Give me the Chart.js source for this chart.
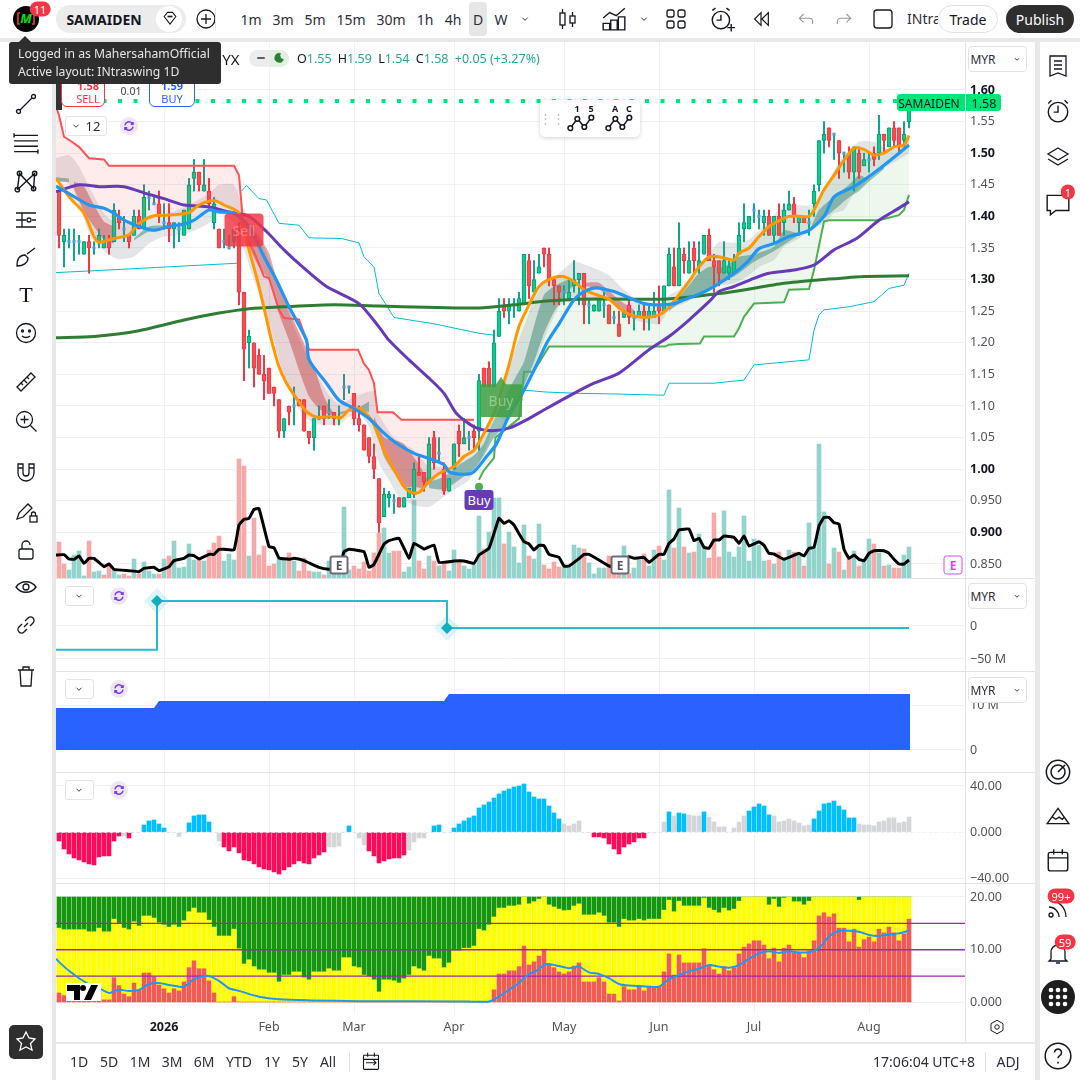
<!DOCTYPE html>
<html>
<head>
<meta charset="utf-8">
<title>SAMAIDEN 1D</title>
<script src="https://cdn.jsdelivr.net/npm/chart.js@4/dist/chart.umd.min.js"></script>
<style>
html, body { margin: 0; padding: 0; }
body { width: 1080px; height: 1080px; overflow: hidden; position: relative; background: #e8e8e8; font-family: "Noto Sans", sans-serif; color: #131722; }
.panel { position: absolute; background: #fff; }
canvas { position: absolute; left: 56px; }
.t { position: absolute; white-space: nowrap; transform: translate(-50%, -50%); font-size: 14px; }
.sep { position: absolute; background: #e0e3eb; }
.ic { position: absolute; transform: translate(-50%, -50%); fill: none; stroke: #131722; stroke-width: 1.3; overflow: visible; }
.badge { position: absolute; transform: translate(-50%, -50%); background: #f23645; color: #fff; border-radius: 10px; font-size: 11px; line-height: 15px; padding: 0 4px; text-align: center; }
.pin { position: absolute; transform: translate(-50%, -50%); }
.eMark { width: 19px; height: 19px; box-sizing: border-box; border: 2px solid #6a6d78; border-radius: 3px; background: #fff; color: #50535e; font-size: 12px; font-weight: 700; line-height: 15px; text-align: center; }
</style>
</head>
<body>
<div class="panel" style="left:0;top:0;width:1080px;height:38px"></div>
<div class="panel" style="left:0;top:42px;width:52px;height:1038px"></div>
<div class="panel" style="left:1040px;top:42px;width:40px;height:1038px"></div>
<div class="panel" style="left:56px;top:42px;width:979px;height:1000px"></div>
<div class="panel" style="left:56px;top:1044px;width:979px;height:36px"></div>

<canvas id="pricePane" width="979" height="536" style="top:42px"></canvas>
<canvas id="flowPane" width="979" height="92" style="top:579px"></canvas>
<canvas id="areaPane" width="979" height="100" style="top:672px"></canvas>
<canvas id="histPane" width="979" height="110" style="top:773px"></canvas>
<canvas id="stackPane" width="979" height="158" style="top:884px"></canvas>

<div class="sep" style="left:56px;top:578px;width:979px;height:1px"></div>
<div class="sep" style="left:56px;top:671px;width:979px;height:1px"></div>
<div class="sep" style="left:56px;top:772px;width:979px;height:1px"></div>
<div class="sep" style="left:56px;top:883px;width:979px;height:1px"></div>
<div class="sep" style="left:965px;top:42px;width:1px;height:1000px"></div>

<div id="chrome"></div>

<div id="sellBox" class="pin" style="width:39px;height:33px;background:rgba(242,54,69,.84);border-radius:4px;color:rgba(255,255,255,.3);font-size:14px;line-height:33px;text-align:center">Sell</div>
<div id="buyBox" class="pin" style="width:42px;height:40px;background:rgba(67,160,71,.88);clip-path:polygon(0 18%,38% 18%,50% 0,62% 18%,100% 18%,100% 100%,0 100%);color:rgba(255,255,255,.35);font-size:14px;line-height:48px;text-align:center">Buy</div>
<div id="buyTag" class="pin" style="width:29px;height:20px;background:#673ab7;border-radius:3px;color:#fff;font-size:13px;line-height:20px;text-align:center">Buy</div>
<div id="earnA" class="pin eMark">E</div>
<div id="earnB" class="pin eMark">E</div>
<div id="earnC" class="pin eMark" style="border-color:#e040fb;color:#e040fb;border-width:1px;line-height:17px">E</div>

<script>
// Every candle, one entry per daily bar
const opens = [
  1.44,1.36,1.36,1.36,1.36,1.34,1.36,1.35,1.36,1.35,
  1.36,1.36,1.40,1.38,1.37,1.37,1.40,1.38,1.43,1.42,
  1.42,1.39,1.39,1.38,1.38,1.37,1.38,1.46,1.47,1.44,
  1.44,1.39,1.38,1.36,1.35,1.36,1.37,1.28,1.20,1.20,
  1.18,1.15,1.16,1.13,1.11,1.06,1.10,1.10,1.11,1.11,
  1.06,1.05,1.08,1.10,1.09,1.09,1.08,1.13,1.13,1.12,
  1.08,1.07,1.05,1.02,0.985,0.925,0.955,0.95,0.955,0.94,
  0.955,0.96,0.995,0.995,0.98,1.05,1.025,1.00,0.965,1.00,
  1.06,1.04,1.05,1.06,1.06,1.16,1.16,1.13,1.21,1.26,
  1.25,1.26,1.25,1.26,1.33,1.28,1.31,1.35,1.34,1.30,
  1.29,1.28,1.27,1.29,1.30,1.31,1.26,1.25,1.25,1.26,
  1.26,1.24,1.23,1.24,1.26,1.24,1.24,1.25,1.24,1.24,
  1.26,1.25,1.29,1.32,1.29,1.34,1.31,1.35,1.32,1.34,
  1.37,1.33,1.33,1.31,1.31,1.31,1.34,1.38,1.38,1.41,
  1.40,1.39,1.40,1.37,1.40,1.39,1.41,1.42,1.39,1.40,
  1.39,1.42,1.45,1.52,1.54,1.53,1.52,1.50,1.50,1.47,
  1.50,1.48,1.49,1.50,1.50,1.53,1.51,1.54,1.54,1.52,1.55
];
const highs = [
  1.44,1.38,1.38,1.38,1.37,1.36,1.37,1.36,1.38,1.37,
  1.37,1.42,1.41,1.40,1.37,1.41,1.41,1.45,1.44,1.43,
  1.44,1.42,1.42,1.39,1.39,1.41,1.46,1.49,1.47,1.49,
  1.46,1.43,1.38,1.38,1.37,1.38,1.39,1.28,1.22,1.20,
  1.19,1.18,1.16,1.13,1.11,1.08,1.10,1.13,1.11,1.11,
  1.06,1.08,1.10,1.10,1.11,1.09,1.10,1.15,1.13,1.12,
  1.10,1.07,1.05,1.04,0.985,0.97,0.965,0.96,0.955,0.955,
  0.97,1.01,1.02,0.995,1.05,1.06,1.05,1.01,0.985,1.04,
  1.07,1.08,1.06,1.07,1.15,1.16,1.17,1.22,1.27,1.27,
  1.27,1.27,1.28,1.34,1.34,1.33,1.34,1.35,1.35,1.30,
  1.29,1.29,1.30,1.33,1.31,1.31,1.27,1.26,1.27,1.28,
  1.26,1.25,1.25,1.25,1.27,1.25,1.26,1.26,1.26,1.28,
  1.29,1.29,1.35,1.35,1.39,1.35,1.36,1.36,1.36,1.37,
  1.38,1.34,1.33,1.36,1.33,1.34,1.39,1.42,1.40,1.42,
  1.41,1.41,1.41,1.40,1.42,1.42,1.44,1.43,1.40,1.40,
  1.41,1.45,1.52,1.55,1.54,1.53,1.52,1.50,1.51,1.51,
  1.51,1.50,1.50,1.51,1.56,1.53,1.54,1.55,1.54,1.55,1.59
];
const lows = [
  1.35,1.32,1.35,1.33,1.34,1.34,1.31,1.34,1.35,1.35,
  1.34,1.36,1.38,1.36,1.35,1.37,1.38,1.38,1.41,1.42,
  1.39,1.38,1.36,1.35,1.36,1.37,1.38,1.44,1.44,1.44,
  1.41,1.38,1.35,1.35,1.35,1.35,1.26,1.14,1.16,1.13,
  1.15,1.11,1.12,1.10,1.05,1.05,1.07,1.07,1.10,1.06,
  1.04,1.03,1.08,1.07,1.08,1.07,1.07,1.11,1.12,1.07,
  1.06,1.03,1.01,0.985,0.90,0.925,0.94,0.93,0.94,0.94,
  0.955,0.955,0.99,0.965,0.98,1.00,1.01,0.96,0.965,1.00,
  1.02,1.04,1.03,1.03,1.03,1.13,1.13,1.13,1.21,1.24,
  1.23,1.24,1.25,1.26,1.27,1.28,1.31,1.32,1.29,1.26,
  1.26,1.26,1.27,1.28,1.26,1.23,1.23,1.25,1.25,1.24,
  1.23,1.23,1.21,1.24,1.23,1.22,1.24,1.22,1.22,1.24,
  1.23,1.25,1.29,1.29,1.29,1.31,1.31,1.31,1.31,1.34,
  1.33,1.28,1.29,1.31,1.30,1.31,1.34,1.36,1.38,1.39,
  1.38,1.37,1.37,1.36,1.37,1.37,1.41,1.39,1.37,1.39,
  1.37,1.40,1.44,1.50,1.51,1.49,1.46,1.47,1.46,1.44,
  1.46,1.48,1.47,1.48,1.49,1.50,1.51,1.51,1.50,1.51,1.54
];
const closes = [
  1.37,1.37,1.36,1.36,1.36,1.36,1.35,1.35,1.37,1.36,
  1.35,1.41,1.39,1.38,1.36,1.40,1.38,1.43,1.43,1.42,
  1.40,1.39,1.38,1.39,1.38,1.41,1.45,1.47,1.45,1.45,
  1.42,1.42,1.35,1.36,1.35,1.38,1.28,1.19,1.21,1.16,
  1.15,1.14,1.12,1.12,1.06,1.08,1.09,1.10,1.10,1.06,
  1.05,1.08,1.08,1.08,1.09,1.08,1.08,1.13,1.13,1.08,
  1.07,1.03,1.02,1.00,0.915,0.96,0.96,0.95,0.94,0.955,
  0.97,1.00,0.99,0.98,1.04,1.01,1.025,0.965,0.985,1.04,
  1.04,1.05,1.05,1.05,1.14,1.13,1.13,1.20,1.25,1.25,
  1.26,1.26,1.27,1.34,1.29,1.30,1.32,1.34,1.30,1.29,
  1.28,1.28,1.28,1.30,1.31,1.26,1.26,1.26,1.27,1.26,
  1.23,1.24,1.21,1.25,1.24,1.24,1.25,1.24,1.25,1.25,
  1.25,1.29,1.34,1.29,1.35,1.33,1.33,1.33,1.33,1.37,
  1.33,1.32,1.31,1.33,1.32,1.33,1.37,1.39,1.40,1.41,
  1.40,1.40,1.37,1.40,1.37,1.41,1.42,1.40,1.40,1.39,
  1.39,1.44,1.52,1.53,1.52,1.53,1.50,1.50,1.47,1.51,
  1.47,1.49,1.49,1.49,1.53,1.52,1.54,1.52,1.51,1.53,1.58
];

// Volume in millions, and whether each bar was coloured red or green
const volumes = [
  10.8,4.2,2.4,6.9,8.1,0.6,11.1,1.8,2.1,0.9,
  3.6,2.4,0.9,1.2,0.6,5.7,1.2,4.8,2.1,1.2,
  1.2,5.7,6.6,11.1,3.0,3.3,10.2,5.4,5.4,5.1,
  8.4,10.5,12.6,5.1,7.2,5.4,35.7,33.6,6.6,18.0,
  6.9,9.6,3.6,4.2,6.0,5.4,7.5,5.1,2.1,6.0,
  2.1,1.8,1.8,0.9,5.1,2.4,1.8,21.3,2.4,3.6,
  2.7,4.8,2.1,7.5,13.4,15.0,7.5,8.1,8.1,1.8,
  3.3,23.4,5.1,2.7,6.6,5.1,3.6,4.2,2.1,8.4,
  4.8,3.6,2.7,3.9,18.6,8.7,13.8,24.0,24.0,10.2,
  13.8,9.3,4.5,15.9,6.6,5.7,16.2,3.9,2.7,4.8,
  3.3,3.3,3.3,9.9,9.0,8.7,4.5,1.2,3.0,3.0,
  6.6,3.6,3.4,9.6,1.4,3.0,5.4,7.2,3.6,8.4,
  9.6,5.4,26.4,9.0,21.0,9.3,7.5,7.8,13.2,9.6,
  6.0,19.5,6.3,20.1,7.8,6.3,9.3,18.6,5.1,11.7,
  9.9,5.1,5.4,4.2,7.8,6.0,8.4,7.8,6.9,3.6,
  16.5,9.0,40.2,19.8,4.2,9.0,7.8,2.4,6.0,8.1,
  3.6,5.4,11.7,10.2,7.5,3.6,3.9,3.0,3.0,6.9,9.3
];
const volumeTones = 'rrggggrggr' + 'rggrrgrggg' + 'rgrgggggrg' + 'rrrgggrrgr' + 'rrrrggrgrr' + 'rggrgggggr' +
  'rrrrrggrrg' + 'ggrrgrgrgg' + 'rggggrgggr' + 'ggggrggrrr' + 'rggggrgggg' + 'rrrgrggrgg' +
  'rggrgrgrgg' + 'rrrggggggg' + 'ggrgrggrgr' + 'ggggrgrgrg' + 'rggrgrgrrgg';

// Lines are [bar number, value] as read at the points where they bend
const volumeAverage = [[-0.6,6.9],[1,7.0],[2,5.7],[3,5.6],[4,6.6],[5,4.4],[6,5.9],[7,5.9],[9,3.4],[10,4.2],[11,2.6],[14,2.2],[16,1.9],[17,2.9],[19,3.2],[20,2.2],[22,3.4],[23,5.2],[25,5.9],[26,6.9],[27,6.7],[28,5.7],[30,7.1],[31,7.1],[32,8.6],[33,8.6],[35,8.4],[36,15.9],[37,17.6],[38,17.9],[39,20.6],[40,20.8],[42,9.4],[43,9.1],[44,6.0],[46,5.6],[47,5.9],[49,5.2],[52,3.2],[54,2.6],[56,2.6],[57,7.9],[58,8.6],[61,7.9],[62,3.2],[63,4.1],[65,10.2],[66,11.2],[68,11.9],[70,5.9],[71,10.4],[73,8.7],[75,9.9],[76,4.7],[79,5.1],[81,5.1],[83,4.4],[84,6.9],[86,8.9],[88,17.9],[89,16.4],[90,17.2],[91,15.9],[92,13.3],[93,10.9],[94,10.2],[95,8.4],[96,9.8],[97,9.7],[98,7.1],[100,6.2],[101,3.6],[102,3.6],[104,5.8],[105,7.1],[106,7.1],[108,5.4],[110,3.6],[112,3.3],[114,6.4],[115,5.9],[117,6.2],[118,4.7],[120,7.1],[121,7.1],[122,10.4],[123,11.7],[124,14.4],[126,14.7],[127,11.2],[128,11.9],[129,9.2],[130,8.9],[131,11.4],[132,11.4],[133,12.6],[135,12.2],[136,10.4],[137,12.6],[138,9.6],[140,10.9],[141,9.8],[142,7.4],[143,7.2],[145,5.6],[148,7.4],[149,6.6],[150,8.9],[151,9.2],[152,15.6],[153,18.2],[154,18.2],[155,16.6],[156,16.2],[157,8.6],[158,5.9],[159,6.9],[160,5.6],[161,5.2],[162,7.4],[163,8.2],[165,8.2],[166,7.4],[167,5.6],[168,4.2],[169,4.2],[170,5.4]];

const orangeLine = [[-0.6,1.46],[2,1.431],[5,1.405],[7,1.368],[8,1.359],[11,1.365],[14,1.371],[16,1.389],[19,1.401],[22,1.402],[26,1.406],[28,1.418],[31,1.425],[33,1.418],[36,1.405],[38,1.347],[40,1.289],[42.5,1.204],[44,1.162],[45.5,1.136],[47.5,1.112],[49.5,1.091],[51.7,1.082],[54.2,1.083],[56.5,1.082],[58,1.094],[60,1.096],[62,1.083],[63,1.07],[65,1.03],[67,1.0],[69,0.972],[70.5,0.963],[72,0.963],[74,0.98],[76,0.993],[77.5,0.999],[79,1.004],[81,1.02],[83,1.03],[85,1.057],[87,1.088],[88.5,1.125],[90,1.165],[92,1.226],[94,1.26],[96,1.289],[98,1.30],[100.8,1.305],[103,1.297],[105,1.284],[107.5,1.276],[110,1.269],[112,1.255],[114,1.245],[117,1.24],[120,1.244],[122,1.256],[124,1.276],[126,1.297],[128,1.32],[130,1.336],[132,1.336],[135,1.331],[136,1.342],[138,1.35],[140,1.368],[142,1.384],[144,1.393],[146,1.40],[148,1.40],[150,1.40],[151,1.41],[153,1.442],[155,1.465],[157,1.489],[159,1.508],[161,1.506],[163,1.497],[165,1.50],[167,1.51],[169,1.513],[170,1.528]];
const blueLine = [[-0.6,1.448],[2,1.436],[6,1.418],[9,1.413],[11,1.405],[13,1.394],[16,1.384],[19,1.378],[22,1.384],[25,1.388],[27,1.394],[30,1.41],[32,1.407],[35,1.405],[38,1.384],[41,1.336],[43.5,1.299],[46,1.257],[49.5,1.204],[50,1.173],[53.5,1.136],[56,1.109],[59,1.096],[62,1.08],[65,1.057],[67.5,1.041],[71,1.025],[74,1.017],[77,1.007],[78,0.996],[81,0.992],[83,0.996],[85.5,1.02],[87.5,1.04],[90,1.085],[93,1.125],[95.5,1.165],[97.5,1.199],[100,1.23],[103,1.268],[105,1.281],[107.5,1.287],[111,1.281],[113.5,1.273],[117,1.262],[120,1.26],[123,1.262],[125,1.268],[128,1.277],[131,1.289],[135,1.31],[137.7,1.328],[140,1.349],[143,1.357],[146,1.368],[150,1.378],[153,1.40],[155,1.431],[159,1.447],[162,1.463],[165,1.481],[168,1.50],[170,1.513]];
const purpleLine = [[-0.6,1.439],[4,1.45],[8,1.447],[13,1.447],[17.5,1.436],[21,1.428],[25,1.418],[30,1.415],[34,1.407],[38,1.40],[41.5,1.376],[45,1.347],[49,1.318],[53.5,1.289],[60,1.262],[64,1.225],[66,1.204],[70,1.173],[74,1.144],[77,1.12],[79.5,1.088],[83,1.067],[86,1.061],[90,1.065],[93.5,1.078],[97.5,1.096],[103,1.12],[107,1.136],[112,1.152],[118,1.189],[122,1.21],[126,1.236],[130,1.265],[132,1.281],[135,1.289],[139,1.302],[142,1.31],[147,1.315],[151,1.323],[155,1.347],[159.5,1.365],[164,1.394],[168,1.413],[170,1.423]];
const longAverage = [[-0.6,1.208],[7,1.21],[16,1.219],[25,1.236],[32,1.247],[38,1.254],[45,1.257],[55,1.26],[64,1.258],[84,1.255],[91,1.26],[97.5,1.266],[104,1.269],[114,1.269],[121,1.269],[128,1.274],[135,1.281],[145,1.294],[153,1.30],[161,1.305],[170,1.306]];

const sellStop = [[-0.6,1.574],[0,1.56],[1,1.526],[2.2,1.52],[4,1.51],[6,1.492],[9,1.49],[10,1.48],[35,1.48],[36,1.465],[37,1.373],[39,1.344],[41,1.305],[42,1.302],[44,1.252],[45,1.239],[48,1.237],[49,1.215],[50,1.189],[59.8,1.189],[61,1.167],[62,1.157],[63,1.136],[63.7,1.09],[66.8,1.09],[68.5,1.078],[83,1.078]];
const buyStop = [[84,0.983],[84.8,0.996],[87,1.018],[87.3,1.05],[92,1.08],[92.5,1.11],[93,1.154],[94.9,1.154],[98,1.194],[121.2,1.194],[122,1.197],[124,1.198],[128.2,1.199],[129,1.21],[135,1.21],[136,1.223],[137,1.241],[139,1.262],[145,1.264],[146,1.284],[150,1.285],[151,1.315],[153,1.392],[154,1.394],[164,1.394],[168,1.402],[169,1.41],[170,1.434]];

const cyanFirst = [[-0.6,1.311],[12,1.316],[21.5,1.32],[36,1.326]];
const cyanSecond = [[36.5,1.44],[37.5,1.449],[40,1.428],[41.5,1.426],[44,1.389],[48,1.386],[50,1.366],[56.5,1.365],[60,1.358],[61,1.336],[63,1.32],[64,1.278],[67,1.24],[75,1.23],[84,1.215],[87,1.212]];
const cyanThird = [[93,1.125],[97.5,1.122],[104,1.12],[111,1.119],[121,1.117],[122,1.136],[131,1.136],[137,1.141],[139,1.165],[150,1.173],[151,1.22],[152,1.244],[153,1.252],[158,1.257],[163,1.265],[166,1.286],[169,1.291],[170,1.31]];

const cloudTop = [[-0.6,1.492],[2,1.497],[4,1.479],[6,1.447],[9,1.405],[11,1.392],[16,1.394],[22,1.405],[26,1.418],[30,1.436],[32,1.45],[35,1.45],[37,1.41],[39,1.389],[41,1.352],[44,1.289],[47,1.225],[50,1.173],[54,1.117],[56,1.104],[60,1.117],[63,1.123],[64,1.086],[67,1.05],[71,1.03],[74,1.004],[77,1.004],[79,1.0],[81,1.02],[83,1.03],[85,1.06],[87,1.099],[89,1.146],[91,1.185],[93,1.226],[95,1.268],[97,1.294],[100,1.31],[103,1.328],[107,1.318],[110,1.307],[113,1.284],[117,1.26],[120,1.252],[122,1.276],[124,1.284],[127,1.31],[130,1.342],[132,1.36],[135,1.358],[138,1.363],[142,1.394],[144,1.41],[146,1.418],[151,1.418],[153,1.442],[155.5,1.479],[160,1.518],[163,1.518],[166,1.505],[169,1.513],[170,1.526]];
const cloudBottom = [[-0.6,1.458],[2,1.452],[4,1.42],[6,1.373],[8,1.352],[10,1.339],[12,1.332],[15,1.336],[18,1.357],[21,1.368],[25,1.371],[30,1.389],[32,1.405],[35,1.389],[37,1.347],[39,1.299],[41,1.257],[43,1.204],[45,1.146],[48,1.094],[51,1.072],[54,1.07],[56,1.07],[58,1.083],[60,1.088],[62,1.067],[64,1.009],[66,0.983],[68,0.956],[71,0.943],[74,0.94],[76,0.951],[78,0.962],[80,0.972],[82,0.983],[84,1.007],[86,1.046],[87.2,1.083],[90,1.078],[93,1.12],[95,1.162],[97.5,1.215],[100,1.257],[102.5,1.273],[105,1.265],[110,1.268],[112,1.252],[116,1.234],[120,1.23],[122,1.252],[125,1.262],[128,1.275],[131,1.289],[135,1.294],[138,1.307],[140,1.32],[143,1.331],[145,1.352],[148,1.365],[150,1.378],[153,1.389],[155,1.405],[157,1.41],[159,1.436],[162,1.458],[165,1.476],[170,1.50]];

// Coloured ribbon inside the cloud: each stretch has a top and a bottom edge
const redRibbons = [
  [[[3,1.455],[5,1.447],[7,1.418],[9,1.392],[11,1.384]], [[3,1.444],[5,1.407],[7,1.384],[9,1.363],[11,1.357]]],
  [[[36,1.405],[38,1.384],[40,1.368],[42,1.342],[44,1.289],[46,1.252],[49,1.199],[51,1.162],[53,1.115],[55,1.088],[56,1.085]], [[36,1.394],[38,1.352],[40,1.32],[42,1.299],[44,1.246],[46,1.204],[48,1.157],[50,1.115],[52,1.096],[54,1.086],[56,1.085]]],
  [[[63,1.083],[65,1.05],[67,1.046],[69,1.04],[72,1.007],[74,0.98]], [[63,1.075],[65,1.02],[67,0.994],[69,0.972],[71,0.972],[73,0.97],[74,0.978]]],
  [[[105,1.295],[108,1.295],[112,1.268],[115,1.252]], [[105,1.29],[108,1.285],[112,1.255],[115,1.245]]]
];
const tealRibbons = [
  [[[-0.6,1.462],[2,1.46]], [[-0.6,1.455],[2,1.454]]],
  [[[15,1.365],[18,1.384],[22,1.386]], [[15,1.362],[18,1.376],[22,1.381]]],
  [[[56,1.09],[60,1.098],[62,1.107]], [[56,1.086],[60,1.094],[62,1.09]]],
  [[[74,0.98],[77,0.988],[80,1.007],[83,1.022],[85,1.041],[87,1.078],[89,1.11],[91,1.141],[93,1.17],[95,1.226],[97,1.276],[99,1.289],[102,1.30],[104,1.294]], [[74,0.97],[77,0.968],[80,0.983],[83,1.0],[85,1.022],[87,1.05],[89,1.067],[91,1.094],[93,1.132],[95,1.17],[97,1.215],[99,1.249],[102,1.284],[104,1.294]]],
  [[[122,1.256],[124,1.273],[126,1.291],[128,1.31],[130,1.32],[133,1.32],[136,1.336],[139,1.34],[143,1.352],[145,1.378],[148,1.373],[150,1.378],[152,1.41],[155,1.431],[158,1.45],[160,1.465],[162,1.46],[165,1.479]], [[122,1.25],[124,1.262],[126,1.27],[128,1.276],[130,1.284],[133,1.296],[136,1.31],[139,1.328],[143,1.345],[145,1.355],[148,1.37],[150,1.375],[152,1.39],[155,1.41],[158,1.43],[160,1.44],[162,1.455],[165,1.475]]]
];

const lastPriceLine = [[-0.6,1.5826],[170,1.5826]];
const buySignalDot = [[84,0.972]];

// Second and third panes
const flowLine = [[-0.6,-36],[19.6,-36],[19.6,38],[77.6,38],[77.6,-3],[170,-3]];
const flowMarks = [[19.6,38],[77.6,-3]];
const areaLine = [[-0.6,9.5],[19,9.5],[20,11.1],[77,11.1],[78,12.7],[170.2,12.7]];

// Momentum histogram: one value per bar, tone r=red b=blue g=grey
const histValues = [
  -7.5,-14.4,-18.7,-22.2,-23.9,-25.6,-27.3,-28.2,-21.3,-20.4,
  -20.4,-7.5,-3.2,-3.2,-4.9,0,0,6.3,9.8,10.6,
  7.2,3.7,0,0,-3.7,0,8.1,14.1,15,15,
  8.9,0,-7.5,-12.7,-16.1,-12.7,-17.8,-23.9,-24.7,-27.3,
  -29.9,-31.7,-32.5,-34.2,-36,-32.5,-29.9,-27.3,-24.7,-26.5,
  -27.3,-22.2,-19.6,-17,-12.7,-12.7,-11.8,0,5.5,0,
  -4.9,-10.9,-16.1,-20.4,-26.5,-24.7,-23,-22.2,-22.2,-19.6,
  -15.3,-8.3,-4.9,-4.9,0,5.5,6.3,0,0,3.7,
  7.2,9.8,12.4,14.1,21,23.6,26.2,29.6,33.1,35.7,
  37.4,39.1,40,41.7,34.8,30.5,28.8,28.8,22.7,16.7,
  11.5,7.2,5.5,7.2,9.8,0,0,-4,-4,-4.9,
  -10.1,-14.4,-18.7,-12.7,-10.1,-8.3,-4.9,-4.9,0,0,
  0,8.9,17.6,14.1,16.7,15.9,15,14.1,14.1,17.6,
  13.2,8.9,4.6,4.6,0,3.7,8.9,14.1,18.4,21.9,
  24.5,22.7,15,14.1,8.9,9.8,11.5,9.8,8.1,5.5,
  6.3,11.5,18.4,24.5,25.3,27,22.7,19.3,12.4,12.4,
  7.2,6.3,6.3,5.5,8.9,9.8,12.4,12.4,8.1,8.9,13.2
];
const histTones = 'rrrrrrrrrr' + 'rrrgrggbbb' + 'bbggggbbbb' + 'bggrrrrrrr' + 'rrrrrrrrrr' + 'rrrrggggbg' +
  'ggrrrrrrrr' + 'gggggbbggb' + 'bbbbbbbbbb' + 'bbbbbbbbbb' + 'bggggggrrr' + 'rrrrrrrrgg' +
  'ggbgbbgggb' + 'ggggggggbb' + 'bbbggggggg' + 'gbbbbbbbbb' + 'ggggggggggg';
const histZero = [[-0.6,0],[181.2,0]];

// Bottom pane: top of the red part, top of the yellow part, green fills up to 20
const stackRed = [
  1.8,1.3,1.3,0.3,0.3,0.3,0.3,0.3,2.0,0.5,
  0.5,4.7,3.2,1.6,1.1,3.7,2.4,5.6,5.6,4.9,
  3.3,2.6,1.8,2.6,2.2,3.9,6.6,7.9,6.4,6.4,
  4.1,1.8,0.1,0.1,0.1,1.1,0.1,0.1,0.1,0.1,
  0.1,0.1,0.1,0.1,0.1,0.1,0.1,0.1,0.1,0.1,
  0.1,0.1,0.1,0.1,0.1,0.1,0.1,0.1,0.1,0.1,
  0.1,0.1,0.1,0.1,0.1,0.1,0.1,0.1,0.1,0.1,
  0.1,0.1,0.1,0.1,0.1,0.1,0.1,0.1,0.1,0.1,
  0.1,0.1,0.1,0.1,0.1,0.1,0.1,2.4,5.4,5.4,
  6.0,6.0,6.8,10.7,7.1,7.7,8.8,10.1,7.1,6.6,
  5.8,5.4,5.8,6.9,7.5,3.9,3.9,3.9,4.7,3.9,
  1.6,1.6,0.3,3.0,2.4,2.4,3.0,2.2,3.0,3.0,
  3.0,5.8,9.2,5.2,9.0,7.5,7.5,7.5,7.5,10.2,
  6.9,6.2,5.4,6.8,6.0,6.6,9.2,10.5,11.1,11.7,
  11.7,10.9,8.3,10.3,7.7,10.3,10.9,9.4,9.4,8.5,
  9.8,11.7,16.4,17.0,16.2,16.8,14.1,14.1,11.5,13.9,
  10.5,11.9,12.4,11.5,13.9,13.2,14.3,13.2,11.7,13.0,15.8
];
const stackYellow = [
  14.1,13.8,13.8,13.8,13.8,13.8,13.4,13.4,14.1,13.4,
  13.4,15.8,14.9,14.1,13.8,15.3,14.5,16.4,16.4,16.0,
  15.1,14.7,14.3,14.7,14.3,15.5,17.2,17.9,17.0,17.0,
  15.6,14.3,12.6,12.6,12.6,13.9,10.2,7.3,8.1,6.8,
  6.2,6.2,5.6,5.6,3.9,5.2,5.2,5.8,5.8,4.7,
  4.3,5.8,5.8,5.8,6.4,6.0,6.0,8.5,8.5,6.8,
  6.6,5.2,4.9,4.3,2.0,4.3,4.3,4.1,3.7,4.5,
  5.2,6.8,6.4,6.0,8.8,8.3,8.3,6.6,7.5,9.8,
  9.8,10.3,10.3,10.7,13.9,13.6,14.7,16.2,17.9,17.9,
  18.3,18.3,18.5,20,18.7,19.1,19.6,20,18.5,18.1,
  17.7,17.4,17.5,18.3,18.7,16.6,16.6,16.6,17.0,16.4,
  15.1,15.1,14.3,15.8,15.5,15.5,15.8,15.5,15.8,15.8,
  15.8,17.5,19.4,17.2,19.2,18.3,18.3,18.3,18.3,19.8,
  17.9,17.5,17.0,17.9,17.4,17.7,19.2,20,20,20,
  20,20,18.5,19.6,18.1,19.8,20,19.1,19.1,18.5,
  19.2,20,20,20,20,20,20,20,20,20,
  19.4,20,20,20,20,20,20,20,20,20,20
];
const stackLine = [[-0.6,8.3],[0,7.7],[2,6.0],[4,4.6],[6,3.5],[8,2.7],[10,1.8],[11,2.1],[12,2.4],[14,2.2],[16,2.4],[18,3.5],[20,3.7],[22,3.3],[24,3.0],[25,3.0],[27,4.4],[29,5.0],[30,5.0],[32,4.1],[34,2.7],[36,2.2],[40,1.1],[44,0.6],[50,0.4],[60,0.25],[80,0.2],[86,0.2],[88,1.1],[90,2.4],[92,3.7],[93,4.6],[94,5.4],[95.5,6.0],[97,7.1],[98,7.3],[100,6.9],[102,6.5],[104,6.8],[106,5.7],[108,5.4],[110,4.6],[112,3.5],[114,3.2],[118,3.0],[120,3.0],[122,4.4],[124,5.2],[126,5.9],[128,6.4],[130,7.1],[132,6.8],[134,6.6],[136,7.1],[138,8.3],[140,9.3],[142,9.7],[144,9.4],[146,9.7],[148,9.5],[150,9.5],[152,10.3],[154,12.5],[156,13.6],[158,13.6],[160,13.4],[162,12.8],[164,12.6],[166,12.9],[168,13.1],[170,13.6]];
const stackLevels = [15,10,5];

// Axis labels
const priceTicks = [1.60,1.55,1.50,1.45,1.40,1.35,1.30,1.25,1.20,1.15,1.10,1.05,1.00,0.95,0.90,0.85];
const priceTickLabels = ['1.60','1.55','1.50','1.45','1.40','1.35','1.30','1.25','1.20','1.15','1.10','1.05','1.00','0.950','0.900','0.850'];
const boldPriceTicks = [1.60,1.50,1.40,1.30,1.00,0.90];
const monthBars = [21,42,59,79,101,120,139,162];
const monthLabels = ['2026','Feb','Mar','Apr','May','Jun','Jul','Aug'];

const fontFamily = '"Noto Sans", sans-serif';
const gridColor = '#eff1f5';
const barNumbers = opens.map((_, i) => i);

function points(pairs) {
    return pairs.map(p => ({ x: p[0], y: p[1] }));
}

function lineSet(pairs, color, width, order, extra) {
    return Object.assign({
        type: 'line',
        data: points(pairs),
        borderColor: color,
        borderWidth: width,
        pointRadius: 0,
        tension: 0,
        fill: false,
        order: order
    }, extra || {});
}

function barSet(data, colors, thickness, order, extra) {
    return Object.assign({
        type: 'bar',
        data: data,
        backgroundColor: colors,
        barThickness: thickness,
        grouped: false,
        borderWidth: 0,
        order: order
    }, extra || {});
}

const isBoldTick = c => !!c.tick && boldPriceTicks.includes(c.tick.value);

// Shared scale setup, each pane only differs in its y range and labels
function valueAxis(min, max, ticks, labels, boldable) {
    return {
        position: 'right',
        min: min,
        max: max,
        afterBuildTicks: s => { s.ticks = ticks.map(v => ({ value: v })); },
        afterFit: s => { s.width = 70; s.paddingTop = 0; s.paddingBottom = 0; },
        border: { display: false },
        grid: { color: gridColor, drawTicks: false },
        ticks: {
            autoSkip: false,
            padding: 5,
            color: c => boldable && isBoldTick(c) ? '#131722' : '#50535e',
            font: c => ({ family: fontFamily, size: 12.5, weight: boldable && isBoldTick(c) ? '700' : '400' }),
            callback: (v, i) => labels[i]
        }
    };
}

function barAxis(showLabels) {
    return {
        type: 'linear',
        min: -0.6,
        max: 181.2,
        offset: false,
        afterBuildTicks: s => { s.ticks = monthBars.map(v => ({ value: v })); },
        afterFit: s => { s.paddingLeft = 0; s.paddingRight = 0; s.height = showLabels ? 28 : 0; },
        border: { display: false },
        grid: { color: gridColor, drawTicks: false, offset: false },
        ticks: {
            display: showLabels,
            autoSkip: false,
            maxRotation: 0,
            padding: 6,
            color: c => c.index === 0 ? '#131722' : '#50535e',
            font: c => ({ family: fontFamily, size: 12.5, weight: c.index === 0 ? '700' : '400' }),
            callback: (v, i) => monthLabels[i]
        }
    };
}

function pane(id, datasets, scales) {
    return new Chart(document.getElementById(id), {
        type: 'bar',
        data: { datasets: datasets },
        options: {
            responsive: false,
            animation: false,
            events: [],
            layout: { padding: 0, autoPadding: false },
            plugins: { legend: { display: false }, tooltip: { enabled: false } },
            scales: scales
        }
    });
}

// Price pane
const priceSets = [];
priceSets.push(lineSet(orangeLine, '#ff9800', 3, 12, { tension: 0.25 }));
const orangeIndex = 0;
priceSets.push(lineSet(blueLine, '#2196f3', 3.2, 10, { tension: 0.25 }));
priceSets.push(lineSet(purpleLine, '#673ab7', 3, 20, { tension: 0.25 }));
priceSets.push(lineSet(longAverage, '#2e7d32', 3, 30, { tension: 0.25 }));
priceSets.push(lineSet(sellStop, '#ff5252', 2, 40, { backgroundColor: 'rgba(242,54,69,0.1)', fill: { target: orangeIndex } }));
priceSets.push(lineSet(buyStop, '#4caf50', 2, 40, { backgroundColor: 'rgba(76,175,80,0.1)', fill: { target: orangeIndex } }));
[cyanFirst, cyanSecond, cyanThird].forEach(c => priceSets.push(lineSet(c, '#00bcd4', 1, 60)));
priceSets.push(lineSet(cloudTop, 'transparent', 0, 80, { backgroundColor: 'rgba(120,123,134,0.2)', fill: '+1', tension: 0.2 }));
priceSets.push(lineSet(cloudBottom, 'transparent', 0, 80, { tension: 0.2 }));
function addRibbons(list, color) {
    list.forEach(r => {
        priceSets.push(lineSet(r[0], 'transparent', 0, 70, { backgroundColor: color, fill: '+1', tension: 0.2 }));
        priceSets.push(lineSet(r[1], 'transparent', 0, 70, { tension: 0.2 }));
    });
}
addRibbons(redRibbons, 'rgba(183,28,28,0.38)');
addRibbons(tealRibbons, 'rgba(0,105,92,0.38)');
priceSets.push(lineSet(lastPriceLine, '#00e676', 4, 45, { borderDash: [4, 11.5] }));
priceSets.push(lineSet(buySignalDot, '#4caf50', 0, 6, { pointRadius: 4, pointBackgroundColor: '#4caf50' }));

const dojiBars = barNumbers.filter(i => opens[i] === closes[i]);
const bodyBars = barNumbers.filter(i => opens[i] !== closes[i]);
const isUp = i => closes[i] >= opens[i];
priceSets.push(barSet(barNumbers.map(i => ({ x: i, y: [lows[i], highs[i]] })),
    barNumbers.map(i => isUp(i) ? '#10a58f' : '#f23645'), 1.4, 52));
priceSets.push(barSet(bodyBars.map(i => ({ x: i, y: [opens[i], closes[i]] })),
    bodyBars.map(i => isUp(i) ? '#0fcb8a' : '#f0504f'), 4, 50, {
        borderColor: bodyBars.map(i => isUp(i) ? '#089981' : '#f23645'),
        borderWidth: 1,
        borderSkipped: false
    }));
priceSets.push(lineSet(dojiBars.map(i => [i, closes[i]]), 'transparent', 0, 49, {
    pointStyle: 'rect', pointRadius: 2.2, pointBackgroundColor: '#4a9fdc', pointBorderWidth: 0
}));
priceSets.push(barSet(barNumbers.map(i => ({ x: i, y: volumes[i] })),
    barNumbers.map(i => volumeTones[i] === 'g' ? '#92d3cc' : '#f7a9a7'), 4, 100, { yAxisID: 'yVol' }));
priceSets.push(lineSet(volumeAverage, '#000', 3, 4, { yAxisID: 'yVol', tension: 0.1 }));

const priceChart = pane('pricePane', priceSets, {
    x: barAxis(false),
    y: valueAxis(0.8278, 1.6759, priceTicks, priceTickLabels, true),
    yVol: { display: false, min: 0, max: 160.8 }
});

// Step line pane
pane('flowPane', [
    lineSet(flowLine, '#26bcd0', 2, 3),
    lineSet(flowMarks, 'transparent', 0, 1, { pointStyle: 'rectRot', pointRadius: 6, pointBackgroundColor: '#10aebf', pointBorderWidth: 0 }),
    lineSet(flowMarks, 'transparent', 0, 5, { pointStyle: 'rectRot', pointRadius: 13, pointBackgroundColor: 'rgba(38,188,208,0.16)', pointBorderWidth: 0 })
], {
    x: barAxis(false),
    y: valueAxis(-68.2, 71.2, [0, -50], ['0', '\u221250 M'])
});

// Solid blue area pane
pane('areaPane', [
    lineSet(areaLine, '#2962ff', 0, 1, { backgroundColor: '#2962ff', fill: 'origin' })
], {
    x: barAxis(false),
    y: valueAxis(-5, 17.7, [10, 0], ['10 M', '0'])
});

// Histogram pane
const histColors = { r: '#ff0a5a', b: '#00bfff', g: '#d5d6da' };
pane('histPane', [
    barSet(barNumbers.map(i => ({ x: i, y: histValues[i] })), barNumbers.map(i => histColors[histTones[i]]), 4, 5),
    lineSet(histZero, 'rgba(255,255,255,0.85)', 1, 1, { borderDash: [3, 3] })
], {
    x: barAxis(false),
    y: valueAxis(-43.8, 51.2, [40, 0, -40], ['40.00', '0.000', '\u221240.00'])
});

// Stacked red / yellow / green pane
const stackSets = [
    barSet(barNumbers.map(i => ({ x: i, y: [0, stackRed[i]] })), '#f25a52', 4, 8),
    barSet(barNumbers.map(i => ({ x: i, y: [stackRed[i], stackYellow[i]] })), '#ffff00', 4, 8),
    barSet(barNumbers.map(i => ({ x: i, y: [stackYellow[i], 20] })), '#14970c', 4, 8),
    lineSet(stackLine, '#2196f3', 2, 1, { tension: 0.25 })
];
stackLevels.forEach(v => stackSets.push(lineSet([[-0.6, v], [181.2, v]], '#9c27b0', 1.4, 3)));
pane('stackPane', stackSets, {
    x: barAxis(true),
    y: valueAxis(-2.18, 22.46, [20, 10, 0], ['20.00', '10.00', '0.000'])
});

// Signal labels sit on the price scale
function pin(id, bar, price) {
    const el = document.getElementById(id);
    el.style.left = (56 + priceChart.scales.x.getPixelForValue(bar)) + 'px';
    el.style.top = (42 + priceChart.scales.y.getPixelForValue(price)) + 'px';
}
pin('sellBox', 37, 1.378);
pin('buyBox', 88.4, 1.114);
pin('buyTag', 84, 0.951);
pin('earnA', 56, 0.848);
pin('earnB', 112.2, 0.848);
pin('earnC', 178.8, 0.848);

// Everything around the chart: toolbars, tags and icons
const chrome = document.getElementById('chrome');
function add(html) { chrome.insertAdjacentHTML('beforeend', html); }
function label(x, y, text, style) { add(`<div class="t" style="left:${x}px;top:${y}px;${style || ''}">${text}</div>`); }
function rect(x, y, w, h, style) { add(`<div style="position:absolute;left:${x}px;top:${y}px;width:${w}px;height:${h}px;box-sizing:border-box;${style}"></div>`); }
function icon(x, y, body, size, style) {
    const s = size || 24;
    add(`<svg class="ic" style="left:${x}px;top:${y}px;${style || ''}" width="${s}" height="${s}" viewBox="0 0 24 24">${body}</svg>`);
}
function badge(x, y, text) { add(`<div class="badge" style="left:${x}px;top:${y}px">${text}</div>`); }

// top bar
rect(56, 5, 130, 28, 'background:#ececec;border-radius:14px');
label(104, 19, 'SAMAIDEN', 'font-weight:700;font-size:14px');
rect(156, 6, 26, 26, 'background:#fff;border-radius:13px');
icon(170, 19, '<path d="M5 9l4-5h6l4 5-7 9z"/><path d="M9 9h6" stroke-width="2"/>', 20);
icon(206, 19, '<circle cx="12" cy="12" r="9"/><path d="M12 7v10M7 12h10"/>', 24);
rect(215, 8, 1, 22, 'background:#e0e3eb');
rect(469, 2, 18, 34, 'background:#e6e6e6;border-radius:4px');
[['1m',251],['3m',283],['5m',315],['15m',351],['30m',391],['1h',425],['4h',453],['D',478],['W',501]].forEach(r => label(r[1], 19, r[0], 'color:#2a2e39'));
icon(525, 19, '<path d="M8 10l4 4 4-4"/>', 16);
icon(568, 19, '<rect x="4" y="6" width="5" height="12"/><path d="M6.500 2v4M6.500 18v4"/><rect x="14" y="9" width="5" height="7"/><path d="M16.500 5v4M16.500 16v4"/>', 24);
icon(614, 19, '<path d="M2 22v-6h6v6zM9 22v-9h6v9zM16 22v-12h6v12z"/><path d="M2 11l6-5 6 3 8-7"/>', 26);
icon(644, 19, '<path d="M8 10l4 4 4-4"/>', 16);
icon(676, 19, '<rect x="3" y="3" width="7" height="7" rx="2"/><rect x="14" y="3" width="7" height="7" rx="2"/><rect x="3" y="14" width="7" height="7" rx="2"/><rect x="14" y="14" width="7" height="7" rx="2"/>', 24);
icon(722, 19, '<circle cx="11" cy="13" r="8"/><path d="M11 8v5h-4M3 4l3-2M19 4l-3-2M17 20h7M20.500 16.500v7"/>', 26);
icon(761, 19, '<path d="M12 5l-7 7 7 7zM20 5l-7 7 7 7z"/>', 22);
icon(806, 19, '<path d="M9 6l-5 5 5 5M4 11h12a4 4 0 0 1 4 4v3"/>', 20, 'stroke:#9598a1');
icon(844, 19, '<path d="M15 6l5 5-5 5M20 11H8a4 4 0 0 0-4 4v3"/>', 20, 'stroke:#9598a1');
icon(883, 19, '<rect x="3" y="3" width="18" height="18" rx="3"/>', 24);
add('<div style="position:absolute;left:907px;top:9px;width:31px;overflow:hidden;font-size:14px;line-height:20px;color:#2a2e39">INtraswing</div>');
rect(938, 5, 60, 28, 'background:#fff;border:1px solid #e0e3eb;border-radius:14px');
label(968, 19, 'Trade');
rect(1006, 5, 68, 28, 'background:#2e2e2e;border-radius:14px');
label(1040, 19, 'Publish', 'color:#fff');
add('<svg style="position:absolute;left:13px;top:6px" width="26" height="26" viewBox="0 0 26 26"><circle cx="13" cy="13" r="13" fill="#000"/><path d="M7 7H5v11h2M19 7h2v11h-2" fill="none" stroke="#f23645" stroke-width="1.6"/><text x="13" y="17" text-anchor="middle" font-size="13" font-weight="700" font-style="italic" fill="#00e600" font-family="Noto Sans">M</text></svg>');
badge(40, 9, '11');

// legend row
label(231, 59, 'YX', 'font-size:15px');
rect(249, 50, 40, 17, 'background:#ececec;border-radius:9px');
rect(270, 50, 19, 17, 'background:#e2f0e2;border-radius:0 9px 9px 0');
icon(261, 58, '<path d="M6 12h12" stroke="#5d606b" stroke-width="4" stroke-linecap="round"/>', 12);
icon(279, 58, '<path d="M15 3a9 9 0 1 0 6 12 8 8 0 0 1-6-12z" fill="#2e7d32" stroke="#2e7d32"/>', 12);
add('<div style="position:absolute;left:297px;top:50px;font-size:12.5px;line-height:18px;white-space:nowrap;color:#26a69a"><span style="color:#131722">O</span>1.55 <span style="color:#131722;margin-left:3px">H</span>1.59 <span style="color:#131722;margin-left:3px">L</span>1.54 <span style="color:#131722;margin-left:3px">C</span>1.58 <span style="margin-left:3px">+0.05 (+3.27%)</span></div>');

// sell and buy buttons on the chart
rect(56, 84, 6, 26, 'background:#333');
rect(61, 80, 44, 27, 'background:#fff;border:1px solid #f23645;border-radius:0 0 6px 6px');
label(88, 98, 'SELL', 'color:#f23645;font-size:11px');
label(88, 85, '1.58', 'color:#f23645;font-weight:700;font-size:11px');
label(131, 91, '0.01', 'font-size:10.5px;color:#434651');
rect(149, 80, 46, 27, 'background:#fff;border:1px solid #2962ff;border-radius:0 0 6px 6px');
label(172, 98, 'BUY', 'color:#2962ff;font-size:11px');
label(172, 85, '1.59', 'color:#2962ff;font-weight:700;font-size:11px');

// login tooltip
rect(9, 42, 212, 42, 'background:#2e2e2e;border-radius:3px');
rect(20, 38, 10, 10, 'background:#2e2e2e;transform:rotate(45deg)');
add('<div style="position:absolute;left:18px;top:45px;color:#e6e6e6;font-size:12.2px;line-height:18px;white-space:nowrap">Logged in as MahersahamOfficial<br>Active layout: INtraswing 1D</div>');

// pane controls
rect(65, 116, 42, 20, 'background:#fff;border:1px solid #e0e3eb;border-radius:3px');
icon(76, 126, '<path d="M6 9l6 6 6-6" stroke-width="2"/>', 10);
label(93, 126, '12', 'font-size:13px;color:#2a2e39');
function refresh(x, y) {
    rect(x - 9, y - 9, 18, 18, 'background:#ece7f8;border-radius:9px');
    icon(x, y, '<path d="M5 11a7 7 0 0 1 12-4l2 2M19 13a7 7 0 0 1-12 4l-2-2M19 5v4h-4M5 19v-4h4" stroke="#7c3aed" stroke-width="2.400"/>', 14);
}
refresh(129, 126);
[596, 689, 790].forEach(y => {
    rect(65, y - 10, 29, 20, 'background:#fff;border:1px solid #e0e3eb;border-radius:3px');
    icon(79, y, '<path d="M6 9l6 6 6-6" stroke-width="2"/>', 10);
    refresh(119, y);
});

// floating drawing widget
rect(540, 100, 100, 37, 'background:#fff;border-radius:5px;box-shadow:0 1px 4px rgba(0,0,0,.18)');
label(552, 118, '\u22ee\u22ee', 'color:#c1c4cd;font-size:13px');
[[582, '1', '5'], [620, 'A', 'C']].forEach(w => {
    icon(w[0], 120, '<path d="M2 19l6-8 6 7 6-8"/><circle cx="2" cy="19" r="2" fill="#fff"/><circle cx="8" cy="11" r="2" fill="#fff"/><circle cx="14" cy="18" r="2" fill="#fff"/><circle cx="20" cy="10" r="2" fill="#fff"/>', 28);
    label(w[0] - 5, 108, w[1], 'font-size:9px;font-weight:700');
    label(w[0] + 9, 108, w[2], 'font-size:9px;font-weight:700');
});

// currency buttons and the last price tag
[46, 583, 677].forEach(y => {
    rect(968, y, 59, 26, 'background:#fff;border:1px solid #e0e3eb;border-radius:4px');
    label(983, y + 13, 'MYR', 'font-size:12px;color:#2a2e39');
    icon(1017, y + 13, '<path d="M7 10l5 5 5-5" stroke-width="2"/>', 10);
});
rect(897, 94, 68, 17, 'background:#00e676;border-radius:3px 0 0 3px');
label(929, 103, 'SAMAIDEN', 'font-size:12px;color:#131722');
rect(966, 94, 35, 17, 'background:#00e676;border-radius:0 3px 3px 0');
label(984, 103, '1.58', 'font-size:12.5px;color:#131722');

// TradingView mark in the bottom pane
rect(66, 983, 35, 18, 'background:#fff');
add('<svg style="position:absolute;left:67px;top:985px" width="33" height="15" viewBox="0 0 33 15"><path d="M0 0h13v15H7V6H0zM16 0a3 3 0 1 1 0 6 3 3 0 1 1 0-6zM24 0h7l-7 15h-7z" fill="#000"/></svg>');

// left toolbar
icon(26, 104, '<path d="M6 18L18 6"/><circle cx="4.500" cy="19.500" r="2"/><circle cx="19.500" cy="4.500" r="2"/>');
icon(26, 143, '<path d="M1 5h22M1 10h22M1 15h22M1 20h22M1 3v4M23 18v4"/>', 26);
icon(26, 181, '<path d="M4 20L6 5L19 19L20 5L4 20"/><circle cx="4" cy="20" r="2"/><circle cx="6" cy="5" r="2"/><circle cx="19" cy="19" r="2"/><circle cx="20" cy="5" r="2"/>', 26);
icon(26, 219, '<path d="M2 6h20M2 20h20M8 6v14M2 13h10M18 13h4"/><circle cx="15" cy="13" r="2"/>');
icon(26, 257, '<path d="M3 21c0-7 3-11 8-11l3 3c0 5-5 8-11 8zM13 9l8-6"/>', 24);
add('<div class="t" style="left:26px;top:295px;font-size:22px;font-family:Liberation Serif">T</div>');
icon(26, 333, `<circle cx="12" cy="12" r="9.500"/><circle cx="8.500" cy="10" r="1"/><circle cx="15.500" cy="10" r="1"/><path d="M8 15c2 2 6 2 8 0"/>`);
icon(26, 382, '<path d="M3 17L17 3l4 4L7 21zM7 13l2 2M10 10l3 3M13 7l2 2"/>');
icon(26, 421, '<circle cx="10.500" cy="10.500" r="8"/><path d="M16.500 16.500l6 6M10.500 6.500v8M6.500 10.500h8"/>');
icon(26, 472, '<path d="M4 4h5v9a3 3 0 0 0 6 0V4h5v9a8 8 0 0 1-16 0zM4 8h5M15 8h5"/>');
icon(26, 511, '<path d="M3 20l2-6 9-9 4 4-9 9zM14 5l4 4"/><rect x="16" y="17" width="7" height="6"/><path d="M17.500 17v-2a2 2 0 0 1 4 0v2"/>');
icon(26, 550, '<rect x="5" y="11" width="14" height="10" rx="2"/><path d="M8 11V7a4 4 0 0 1 8 0"/>');
icon(26, 587, '<path d="M2 12c5-7 15-7 20 0-5 7-15 7-20 0z"/><circle cx="12" cy="12" r="3"/>');
icon(26, 625, '<path d="M10 14l4-4M8 11l-3 3a3.500 3.500 0 0 0 5 5l3-3M16 13l3-3a3.500 3.500 0 0 0-5-5l-3 3"/>');
icon(26, 676, '<path d="M4 6h16M9 6V3h6v3M6 6l1 16h10l1-16"/>');
rect(9, 1025, 34, 34, 'background:#2e2e2e;border-radius:5px');
icon(26, 1041, '<path d="M12 3l3 6 6 1-4.500 4.500L18 21l-6-3-6 3 1.500-6.500L3 10l6-1z" stroke="#fff"/>');

// right toolbar
icon(1058, 66, '<path d="M4 2h16v20l-8-3-8 3zM8 7h8M8 11h8M8 15h8"/>');
icon(1058, 111, '<circle cx="12" cy="13" r="9"/><path d="M12 7v6h-4M3 5l3-3M21 5l-3-3"/>', 26);
icon(1058, 157, '<path d="M12 3l10 6-10 6L2 9zM2 14l10 6 10-6"/>');
icon(1058, 204, '<path d="M2 4h20v14H10l-5 4v-4H2z"/>', 26);
badge(1068, 192, '1');
icon(1058, 772, '<circle cx="12" cy="12" r="10"/><circle cx="12" cy="12" r="6"/><path d="M12 12l6-6"/>', 28);
icon(1058, 816, '<path d="M2 19L12 5l10 14zM7 13l3 2 3-2 3 2 2-2"/>', 26);
icon(1058, 860, '<rect x="3" y="5" width="18" height="17" rx="2"/><path d="M3 10h18M8 2v5M16 2v5"/>', 26);
icon(1058, 908, '<circle cx="5" cy="19" r="2"/><path d="M3 11a10 10 0 0 1 10 10M3 4a17 17 0 0 1 17 17"/>');
badge(1061, 896, '99+');
icon(1058, 953, '<path d="M5 18V11a7 7 0 0 1 14 0v7l2 2H3zM10 22h4"/>');
badge(1065, 942, '59');
add('<svg style="position:absolute;left:1041px;top:980px" width="34" height="34" viewBox="0 0 34 34"><circle cx="17" cy="17" r="17" fill="#1e1e1e"/><g fill="#fff"><circle cx="10" cy="10" r="2.300"/><circle cx="17" cy="10" r="2.300"/><circle cx="24" cy="10" r="2.300"/><circle cx="10" cy="17" r="2.300"/><circle cx="17" cy="17" r="2.300"/><circle cx="24" cy="17" r="2.300"/><circle cx="10" cy="24" r="2.300"/><circle cx="17" cy="24" r="2.300"/><circle cx="24" cy="24" r="2.300"/></g></svg>');
icon(1058, 1056, '<circle cx="12" cy="12" r="11"/><path d="M9 9a3 3 0 1 1 4.500 2.600c-1 .6-1.500 1.200-1.500 2.400M12 17v1.500"/>', 28);

// bottom bar
[['1D',79],['5D',109],['1M',140],['3M',172],['6M',204],['YTD',239],['1Y',272],['5Y',300],['All',328]].forEach(r => label(r[1], 1061, r[0], 'color:#2a2e39'));
rect(349, 1052, 1, 20, 'background:#e0e3eb');
icon(371, 1061, '<rect x="3" y="5" width="18" height="17" rx="1"/><path d="M3 10h18M8 2v5M16 2v5M6 14h12M15 11l3 3-3 3"/>', 20);
label(924, 1061, '17:06:04 UTC+8', 'color:#2a2e39');
label(1008, 1061, 'ADJ', 'color:#2a2e39');
rect(985, 1052, 1, 20, 'background:#e0e3eb');
icon(997, 1027, '<path d="M12 3l8 4.500v9L12 21l-8-4.500v-9z"/><circle cx="12" cy="12" r="3"/>', 18);
</script>
</body>
</html>
